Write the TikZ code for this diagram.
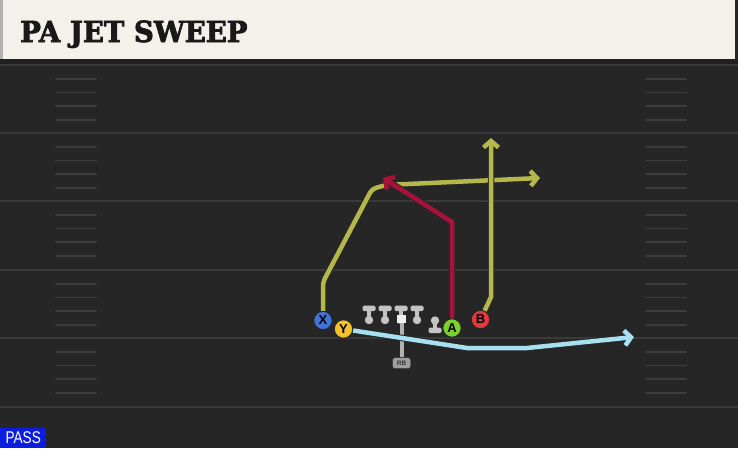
\documentclass[tikz,border=0pt]{standalone}
\usepackage{fontspec}
\setsansfont{Liberation Sans}
\newfontfamily\titlefont{DejaVu Serif}[FakeStretch=0.95, BoldFeatures={FakeBold=2.5}]
\newfontfamily\passfont{Liberation Sans}[FakeStretch=0.8]
\usepackage{tikz}
\usetikzlibrary{arrows.meta, positioning}
\definecolor{fieldbg}{HTML}{262626}
\definecolor{yardgrey}{HTML}{3A3A3A}
\definecolor{hashgrey}{HTML}{3E3E3E}
\definecolor{headbg}{HTML}{F4F1EA}
\definecolor{passblue}{HTML}{0B1EE0}
\definecolor{olive}{HTML}{B5B74A}
\definecolor{postred}{HTML}{A8123A}
\definecolor{flatblue}{HTML}{A7E1F0}
\definecolor{xblue}{HTML}{3F74D6}
\definecolor{yyellow}{HTML}{F3C12A}
\definecolor{agreen}{HTML}{7BD12F}
\definecolor{bred}{HTML}{E2393F}
\definecolor{olgrey}{HTML}{C4C4C4}

\begin{document}
\begin{tikzpicture}[x=1pt, y=-1pt, >={Straight Barb[length=6.5pt, width=15pt]}, player/.style={circle, draw=black!85, line width=1pt, minimum size=18.5pt, inner sep=0pt, font=\sffamily\bfseries\fontsize{13}{13}\selectfont}, route/.style={line width=4.5pt, preaction={draw=black!85, line width=6.5pt}}, yardline/.style={draw=yardgrey, line width=2pt}, hash/.style={draw=hashgrey, line width=1.6pt, line cap=round}, lineman/.style={fill=olgrey}]
    \useasboundingbox (0,0) rectangle (738,448);
    \fill[fieldbg] (0,0) rectangle (738,448);
    \fill[black!88] (0,59) rectangle (738,65);
    \foreach \y in {65,133,201,270,338,407}
        \draw[yardline] (0,\y) -- (738,\y);
    \foreach \y in {65,133,201,270,338}
        \foreach \k in {1,...,4} {
            \draw[hash] (56,{\y+13.7*\k}) -- (96,{\y+13.7*\k});
            \draw[hash] (646,{\y+13.7*\k}) -- (686,{\y+13.7*\k});
        }

    \fill[headbg] (0,0) rectangle (735,59);
    \fill[black!30] (0,0) rectangle (3,59);
    \node(title)[anchor=base west, inner sep=0pt, text=black!90, font=\titlefont\bfseries\fontsize{29}{29}\selectfont] at (20,42) {PA JET SWEEP};

    \node(pass)[anchor=south west, fill=passblue, text=white, minimum width=46pt, minimum height=20pt, inner sep=0pt, font=\passfont\fontsize{17}{17}\selectfont] at (0,448) {PASS};

    \foreach \x in {369,385,401,417} {
        \fill[lineman, rounded corners=1.5pt] (\x-6.5,305.5) rectangle (\x+6.5,311);
        \fill[lineman] (\x-2.2,310) rectangle (\x+2.2,320);
        \fill[lineman] (\x,320) circle (4.2pt);
    }
    \fill[lineman, rounded corners=1.5pt] (428.5,327.5) rectangle (441.5,333);
    \fill[lineman] (432.8,320) rectangle (437.2,329);
    \fill[lineman] (435,320.5) circle (4.2pt);

    \node(qb)[fill=white!94!black, minimum size=8.5pt, inner sep=0pt] at (401.5,319) {};
    \node(rb)[below=34pt of qb, fill=black!38, draw=black!80, rounded corners=2.5pt, minimum width=18pt, minimum height=11pt, inner sep=0pt, text=black!80, font=\sffamily\bfseries\fontsize{6.5}{6.5}\selectfont] {RB};
    \draw[line width=4pt, draw=black!30] (qb) -- (rb);

    \node(wr-x)[player, fill=xblue] at (323,320.5) {X};
    \node(wr-y)[player, fill=yyellow] at (343.5,329) {Y};
    \node(te-a)[player, fill=agreen] at (452,328) {A};
    \node(wr-b)[player, fill=bred] at (480.5,319.5) {B};

    \coordinate(x-end) at (540,178);
    \coordinate(a-end) at (383,178);
    \coordinate(b-end) at (491,138);
    \coordinate(y-end) at (634,337);

    \draw[->, route, draw=olive, rounded corners=4pt] (wr-x) -- (323,282) -- (372,189) -- (386,185) -- (x-end);
    \draw[->, route, draw=postred] (te-a) -- (452,222) -- (a-end);
    \draw[->, route, draw=olive] (wr-b) -- (491,297) -- (b-end);
    \draw[->, route, draw=flatblue] (wr-y) -- (467,348) -- (527,348) -- (y-end);
\end{tikzpicture}
\end{document}
